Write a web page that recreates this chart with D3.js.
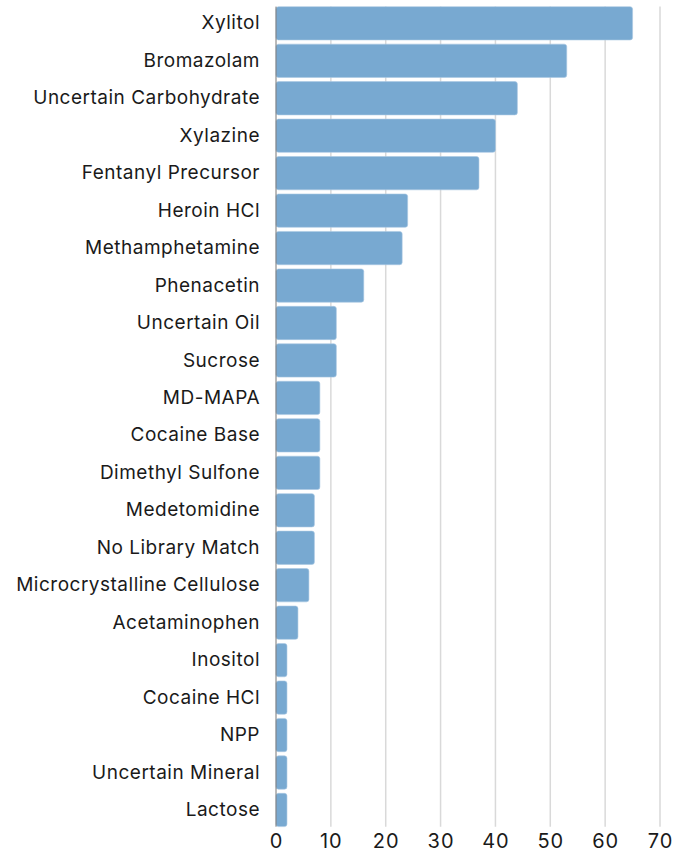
<!DOCTYPE html>
<html>
<head>
<meta charset="utf-8">
<script src="https://cdn.jsdelivr.net/npm/d3@7"></script>
<style>
  body { margin: 0; background: #fff; }
  svg text { font-family: Inter, "Noto Sans", sans-serif; fill: #1a1a1a; }
</style>
</head>
<body>
<svg id="chart" width="688" height="854"></svg>
<script>
// Substances found, in the order shown.
const substances = [
  'Xylitol', 'Bromazolam', 'Uncertain Carbohydrate', 'Xylazine',
  'Fentanyl Precursor', 'Heroin HCl', 'Methamphetamine', 'Phenacetin',
  'Uncertain Oil', 'Sucrose', 'MD-MAPA', 'Cocaine Base', 'Dimethyl Sulfone',
  'Medetomidine', 'No Library Match', 'Microcrystalline Cellulose',
  'Acetaminophen', 'Inositol', 'Cocaine HCl', 'NPP', 'Uncertain Mineral', 'Lactose'
];

// Count for each substance.
const counts = [65, 53, 44, 40, 37, 24, 23, 16, 11, 11, 8, 8, 8, 7, 7, 6, 4, 2, 2, 2, 2, 2];

// Tick values on the x axis.
const xTicks = [0, 10, 20, 30, 40, 50, 60, 70];

const svg = d3.select('#chart');

// Scales.
const x = d3.scaleLinear()
  .domain([0, 70])
  .range([276, 660]);

const y = d3.scaleBand()
  .domain(substances)
  .range([4.6, 828.7])
  .paddingInner(0.111)
  .paddingOuter(0.0555);

// Vertical grid lines.
svg.append('g')
  .selectAll('line')
  .data(xTicks.slice(1))
  .join('line')
  .attr('x1', d => x(d))
  .attr('x2', d => x(d))
  .attr('y1', y.range()[0] + 2)
  .attr('y2', y.range()[1] - 2)
  .attr('stroke', '#d9d9d9')
  .attr('stroke-width', 1.5);

// Bars.
svg.append('g')
  .selectAll('rect')
  .data(counts)
  .join('rect')
  .attr('x', x(0))
  .attr('y', (d, i) => y(substances[i]))
  .attr('width', d => x(d) - x(0))
  .attr('height', y.bandwidth())
  .attr('rx', 2.5)
  .attr('fill', '#78a9d1')
  .attr('stroke', '#a9c8e3')
  .attr('stroke-width', 0.6);

// Left axis line.
svg.append('line')
  .attr('x1', x(0))
  .attr('x2', x(0))
  .attr('y1', y.range()[0] + 2)
  .attr('y2', y.range()[1] - 2)
  .attr('stroke', '#777')
  .attr('stroke-width', 1);

// Category labels.
const yAxis = svg.append('g')
  .attr('transform', `translate(${x(0) - 16},0)`)
  .call(d3.axisLeft(y).tickSize(0).tickPadding(0));
yAxis.select('.domain').remove();
yAxis.selectAll('text')
  .attr('font-size', 19)
  .attr('letter-spacing', 0.5)
  .attr('fill', '#1a1a1a');

// X axis labels.
const xAxis = svg.append('g')
  .attr('transform', `translate(0,${y.range()[1]})`)
  .call(d3.axisBottom(x).tickValues(xTicks).tickSize(0).tickPadding(5));
xAxis.select('.domain').remove();
xAxis.selectAll('text')
  .attr('font-size', 20)
  .attr('letter-spacing', 1)
  .attr('fill', '#1a1a1a');
</script>
</body>
</html>
